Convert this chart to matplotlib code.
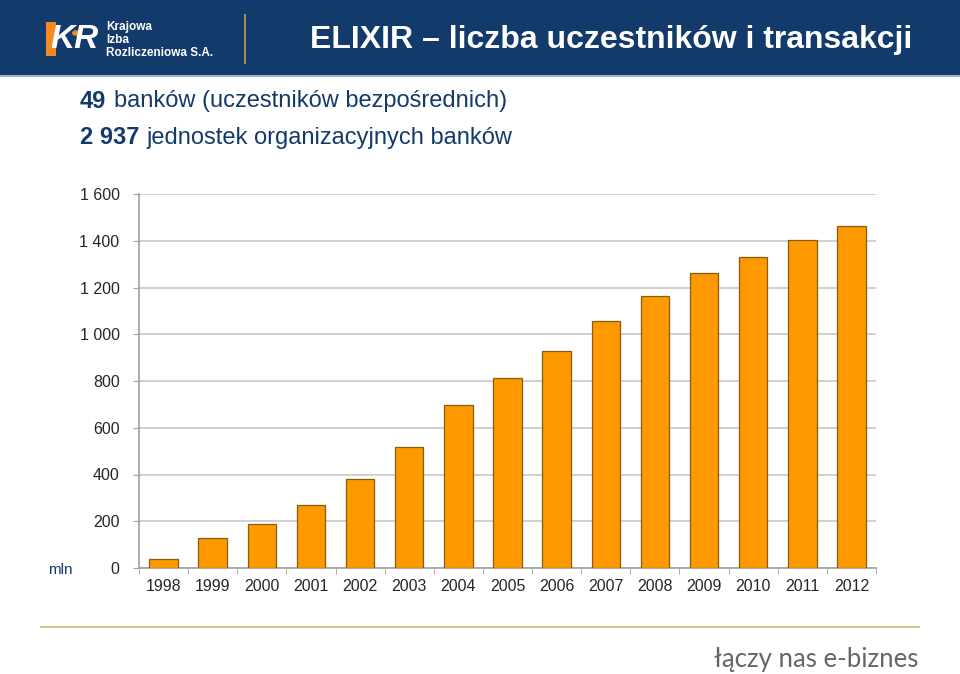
import matplotlib.pyplot as plt
from matplotlib.patches import Rectangle, Circle
import numpy as np

# dane: liczba transakcji ELIXIR (mln)
lata = ["1998", "1999", "2000", "2001", "2002", "2003", "2004", "2005",
        "2006", "2007", "2008", "2009", "2010", "2011", "2012"]
transakcje = [38, 128, 188, 270, 381, 518, 697, 813, 928, 1057, 1164, 1262, 1330, 1403, 1463]
y_ticks = [0, 200, 400, 600, 800, 1000, 1200, 1400, 1600]
y_labels = ["0", "200", "400", "600", "800", "1 000", "1 200", "1 400", "1 600"]

W, H = 960, 674
NAVY = "#123a6b"
FONT = ["Liberation Sans", "DejaVu Sans"]

def fx(x):
    return x / W

def fy(y):
    return 1 - y / H

fig = plt.figure(figsize=(9.6, 6.74), dpi=100)
fig.patch.set_facecolor("white")

# pasek naglowka
fig.patches.append(Rectangle((0, fy(75)), 1, 75 / H, transform=fig.transFigure,
                             facecolor=NAVY, edgecolor="none"))
fig.patches.append(Rectangle((0, fy(77)), 1, 2 / H, transform=fig.transFigure,
                             facecolor="#9fb4cc", edgecolor="none"))

# logo (uproszczone)
fig.patches.append(Rectangle((fx(46), fy(56)), 10 / W, 34 / H, transform=fig.transFigure,
                             facecolor="#f28c1e", edgecolor="none"))
fig.text(fx(50), fy(40), "KR", color="white", fontsize=24, fontweight="bold",
         fontstyle="italic", va="center", ha="left", family=FONT)
fig.patches.append(Circle((fx(76), fy(33)), 4 / W, transform=fig.transFigure,
                          facecolor="#f28c1e", edgecolor="none"))
fig.text(fx(106), fy(27), "Krajowa", color="white", fontsize=8.5, fontweight="bold",
         va="center", family=FONT)
fig.text(fx(106), fy(40), "Izba", color="white", fontsize=8.5, fontweight="bold",
         va="center", family=FONT)
fig.text(fx(106), fy(53), "Rozliczeniowa S.A.", color="white", fontsize=8.5, fontweight="bold",
         va="center", family=FONT)
fig.patches.append(Rectangle((fx(244), fy(64)), 2 / W, 50 / H, transform=fig.transFigure,
                             facecolor="#b08a55", edgecolor="none"))

fig.text(fx(912), fy(40), "ELIXIR \u2013 liczba uczestników i transakcji", color="white",
         fontsize=23, fontweight="bold", ha="right", va="center", family=FONT)

# podtytuly
fig.text(fx(80), fy(101), "49", color=NAVY, fontsize=17, va="center", fontweight="bold",
         family=FONT)
fig.text(fx(114), fy(101), "banków (uczestników bezpośrednich)", color=NAVY, fontsize=17,
         va="center", family=FONT)
fig.text(fx(80), fy(138), "2 937", color=NAVY, fontsize=17, va="center", fontweight="bold",
         family=FONT)
fig.text(fx(147), fy(138), "jednostek organizacyjnych banków", color=NAVY, fontsize=17,
         va="center", family=FONT)

# wykres
ax = fig.add_axes([fx(139), fy(568), (876 - 139) / W, (568 - 194) / H])
x = np.arange(len(lata))
ax.bar(x, transakcje, width=0.58, color="#ff9900", edgecolor="#8a5a10", linewidth=0.9, zorder=3)
ax.set_xlim(-0.5, len(lata) - 0.5)
ax.set_ylim(0, 1600)
ax.set_yticks(y_ticks)
ax.set_yticklabels(y_labels)
ax.yaxis.grid(True, color="#c8c8c8", linewidth=1.2, zorder=0)
ax.set_xticks(x)
ax.set_xticklabels(lata)
ax.set_xticks(np.arange(-0.5, len(lata)), minor=True)
ax.tick_params(axis="x", which="major", length=0, pad=8, labelsize=11.5, labelcolor="#262626")
ax.tick_params(axis="x", which="minor", length=4, color="#a0a0a0")
ax.tick_params(axis="y", length=4, color="#a0a0a0", pad=10, labelsize=11.5, labelcolor="#262626")
for lbl in ax.get_xticklabels() + ax.get_yticklabels():
    lbl.set_family(FONT)
for s in ["top", "right"]:
    ax.spines[s].set_visible(False)
ax.spines["left"].set_color("#a0a0a0")
ax.spines["bottom"].set_color("#a0a0a0")
ax.spines["left"].set_linewidth(1.2)
ax.spines["bottom"].set_linewidth(1.2)

fig.text(fx(48), fy(570), "mln", color=NAVY, fontsize=11, va="center", family=FONT)

# stopka
fig.patches.append(Rectangle((fx(40), fy(628)), 880 / W, 2 / H, transform=fig.transFigure,
                             facecolor="#d9c28f", edgecolor="none"))
fig.text(fx(918), fy(660), "łączy nas e-biznes", color="#666666", fontsize=18.5, ha="right",
         va="center", family=["Lato", "DejaVu Sans"])

plt.savefig("out.png", dpi=100)
